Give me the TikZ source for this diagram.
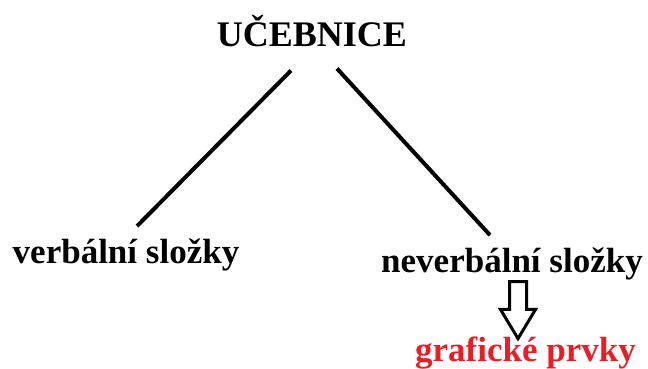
\documentclass[tikz,border=0pt]{standalone}
\usepackage{fontspec}
\setmainfont{Liberation Serif}
\usetikzlibrary{shapes.arrows}
\definecolor{prvkyred}{RGB}{237,28,36}
\begin{document}
\begin{tikzpicture}[x=1pt,y=-1pt,
        every node/.style={inner sep=0pt,anchor=base,font=\bfseries\fontsize{35}{40}\selectfont},
        nazev/.style={font=\bfseries\fontsize{36}{42}\selectfont},
        cervena/.style={text=prvkyred},
        vetev/.style={line width=4pt},
        sipka/.style={single arrow,draw,line width=3pt,rotate=-90,anchor=center,
            inner xsep=0pt,inner ysep=7pt,minimum height=57pt,
            single arrow head extend=9pt,single arrow tip angle=62}]
        \useasboundingbox (0,0) rectangle (648,369);
        \node[nazev] (ucebnice) at (312,47) {UČEBNICE};
        \node (verbalni) at (126,263) {verbální složky};
        \node (neverbalni) at (512,272) {neverbální složky};
        \node[cervena] (graficke) at (525.5,361) {grafické prvky};
        \draw[vetev] ([shift={(-21pt,-23pt)}]ucebnice.south) -- ([shift={(11pt,12pt)}]verbalni.north);
        \draw[vetev] ([shift={(25pt,-21pt)}]ucebnice.south) -- ([shift={(-22pt,12pt)}]neverbalni.north);
        \node[sipka] (dolu) at (518,303) {};
    \end{tikzpicture}
\end{document}
